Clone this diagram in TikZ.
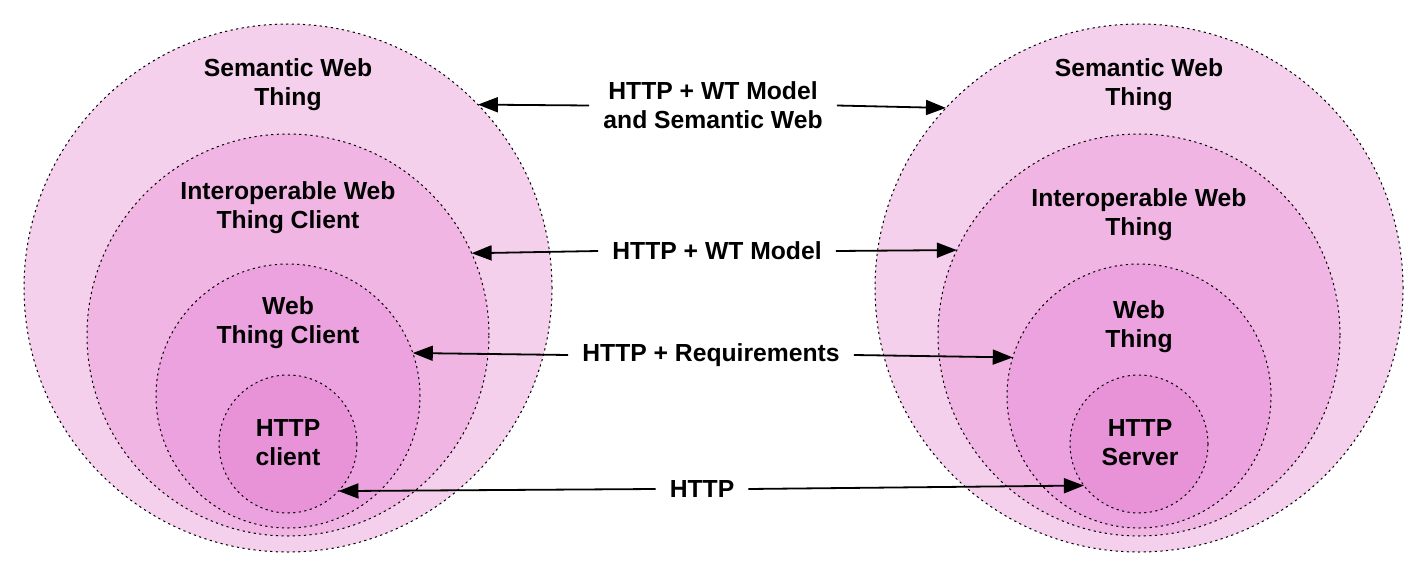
\documentclass[tikz,border=0pt]{standalone}
\usepackage{fontspec}
\setmainfont{Liberation Sans}
\usetikzlibrary{arrows.meta}

\definecolor{pinkA}{RGB}{245,208,237}
\definecolor{pinkB}{RGB}{240,181,227}
\definecolor{pinkC}{RGB}{236,162,222}
\definecolor{pinkD}{RGB}{232,146,215}

\begin{document}
\begin{tikzpicture}
        [x=1pt,y=-1pt,
        ring/.style={draw,shape=circle,line width=1pt,dash pattern=on 2.2pt off 3.4pt,inner sep=0,outer sep=0},
        txt/.style={font=\bfseries\fontsize{24.7}{29}\selectfont,align=center,inner sep=0},
        link/.style={txt,inner xsep=14pt},
        arr/.style={line width=1.8pt,-{Triangle[length=20pt,width=15pt]}}]

        \useasboundingbox (0,0) rectangle (1427,575);

        % client side
        \node[ring,fill=pinkA,minimum size=528pt] (lsem) at (288,288) {};
        \node[ring,fill=pinkB,minimum size=402pt] (lint) at (288,335) {};
        \node[ring,fill=pinkC,minimum size=264pt] (lwt) at (288,396) {};
        \node[ring,fill=pinkD,minimum size=138pt] (lhttp) at (288,444) {};

        % thing side
        \node[ring,fill=pinkA,minimum size=528pt] (rsem) at (1139,288) {};
        \node[ring,fill=pinkB,minimum size=402pt] (rint) at (1139,335) {};
        \node[ring,fill=pinkC,minimum size=264pt] (rwt) at (1139,396) {};
        \node[ring,fill=pinkD,minimum size=138pt] (rhttp) at (1139,444) {};

        \node[txt] (lsemt) at (288,84.5) {Semantic Web\\Thing};
        \node[txt] (lintt) at (288,208) {Interoperable Web\\Thing Client};
        \node[txt] (lwtt) at (288,322.5) {Web\\Thing Client};
        \node[txt] (lhttpt) at (288,442.5) {HTTP\\client};

        \node[txt] (rsemt) at (1139,84.5) {Semantic Web\\Thing};
        \node[txt] (rintt) at (1139,214.5) {Interoperable Web\\Thing};
        \node[txt] (rwtt) at (1139,326.5) {Web\\Thing};
        \node[txt] (rhttpt) at (1140,442.5) {HTTP\\Server};

        \node[link] (sem) at (713,105.5) {HTTP + WT Model\\and Semantic Web};
        \node[link] (model) at (717,251) {HTTP + WT Model};
        \node[link] (req) at (711,355) {HTTP + Requirements};
        \node[link] (http) at (702,489) {HTTP};

        \draw[arr] (sem.west) -- (lsem.44);
        \draw[arr] (sem.east) -- (rsem.137);
        \draw[arr] (model.west) -- (lint.24);
        \draw[arr] (model.east) -- (rint.155.4);
        \draw[arr] (req.west) -- (lwt.19.1);
        \draw[arr] (req.east) -- (rwt.163.5);
        \draw[arr] (http.west) -- (lhttp.-43.3);
        \draw[arr] (http.east) -- (rhttp.217.9);
      \end{tikzpicture}
\end{document}
